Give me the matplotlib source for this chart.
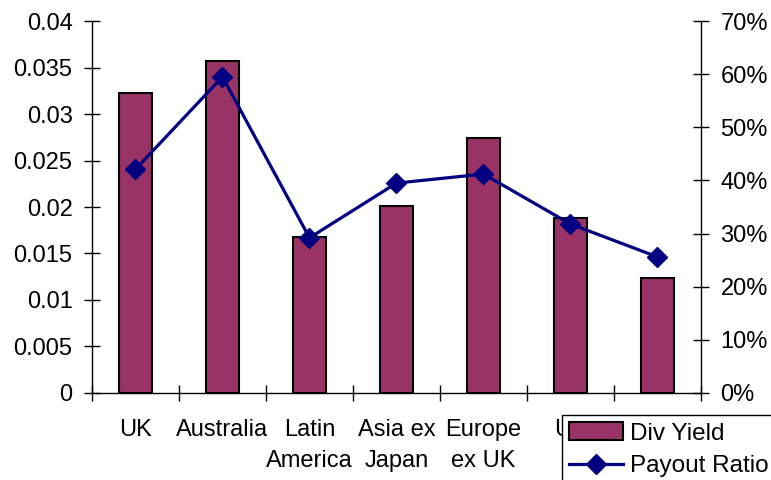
import numpy as np
import matplotlib.pyplot as plt
from matplotlib.ticker import FuncFormatter, FixedLocator

# data
regions = ['UK', 'Australia', 'Latin\nAmerica', 'Asia ex\nJapan', 'Europe\nex UK', 'US', 'Japan']
div_yield = [0.0323, 0.0357, 0.0168, 0.0201, 0.0274, 0.0188, 0.0124]
payout_ratio = [0.421, 0.595, 0.292, 0.395, 0.412, 0.318, 0.256]

bar_color = '#993366'
line_color = '#000080'

plt.rcParams['font.family'] = ['Liberation Sans', 'DejaVu Sans']
plt.rcParams['font.size'] = 17

fig = plt.figure(figsize=(7.71, 4.80), dpi=100)
ax = fig.add_axes([0.1193, 0.1813, 0.7899, 0.7749])
ax2 = ax.twinx()

x = np.arange(len(regions))

# bars on the left axis
bars = ax.bar(x, div_yield, width=0.39, color=bar_color, edgecolor='black',
              linewidth=1.5, label='Div Yield', zorder=2)

# payout ratio line on the right axis
line, = ax2.plot(x, payout_ratio, color=line_color, linewidth=2.3, marker='D',
                 markersize=10, label='Payout Ratio', zorder=3)

ax.set_xlim(-0.5, len(regions) - 0.5)
ax.set_ylim(0, 0.04)
ax.set_yticks(np.arange(0, 0.0401, 0.005))
ax.yaxis.set_major_formatter(FuncFormatter(lambda v, p: '0' if v == 0 else f'{v:g}'))

ax2.set_ylim(0, 0.7)
ax2.set_yticks(np.arange(0, 0.701, 0.1))
ax2.yaxis.set_major_formatter(FuncFormatter(lambda v, p: f'{v * 100:.0f}%'))

# category labels at centres, tick marks between categories
ax.set_xticks(x)
ax.set_xticklabels(regions, linespacing=1.5)
ax.xaxis.set_minor_locator(FixedLocator(np.arange(-0.5, len(regions), 1.0)))
ax.tick_params(axis='x', which='major', length=0, pad=19)
ax.tick_params(axis='x', which='minor', direction='inout', length=11, width=1)
ax.tick_params(axis='y', direction='inout', length=11, width=1, pad=8.5)
ax2.tick_params(axis='y', direction='inout', length=11, width=1, pad=8.5)

for a in (ax, ax2):
    a.spines['top'].set_visible(False)
    for s in ('left', 'right', 'bottom'):
        a.spines[s].set_linewidth(1)
ax.spines['right'].set_visible(False)
ax2.spines['left'].set_visible(False)
ax2.spines['bottom'].set_visible(False)

# legend partly outside the figure, as in the original
leg = fig.legend(handles=[bars, line], loc='upper left', bbox_to_anchor=(0.729, 0.135),
                 frameon=True, fancybox=False, framealpha=1, edgecolor='black',
                 borderpad=0.3, handlelength=2.2, handletextpad=0.3, labelspacing=0.45,
                 borderaxespad=0, fontsize=17.5)
leg.get_frame().set_linewidth(1)
leg.set_zorder(10)

fig.savefig('out.png', dpi=100)
